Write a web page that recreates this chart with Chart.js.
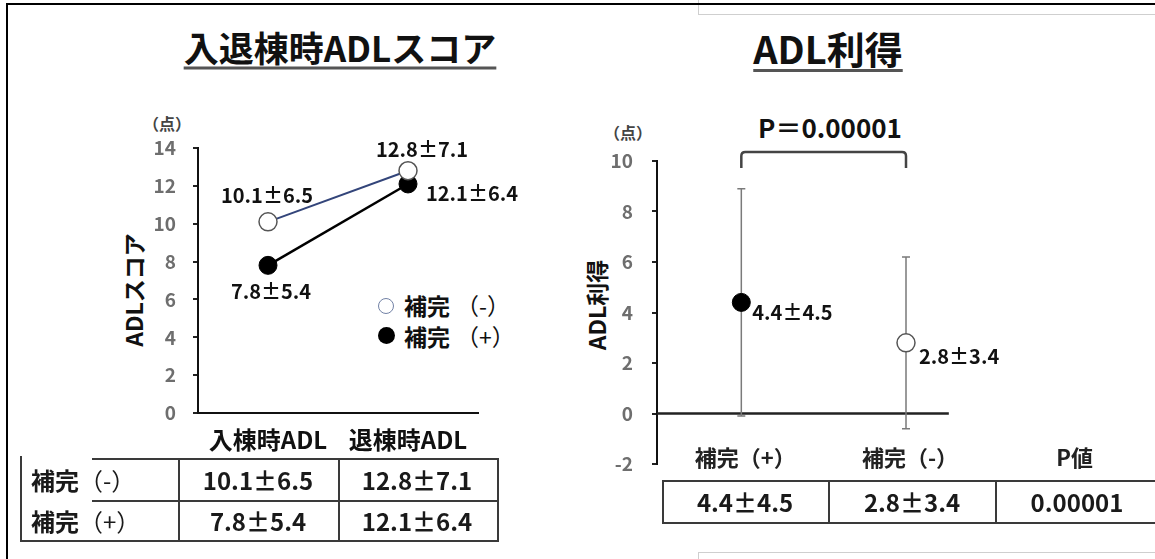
<!DOCTYPE html>
<html lang="ja">
<head>
<meta charset="utf-8">
<title>入退棟時ADLスコア / ADL利得</title>
<script src="https://cdn.jsdelivr.net/npm/chart.js@4.4.1/dist/chart.umd.min.js"></script>
<style>
  html, body { margin:0; padding:0; background:#fff; }
  body { width:1155px; height:559px; overflow:hidden; position:relative;
         font-family:"Noto Sans CJK JP","Noto Sans",sans-serif; color:#111; }
  .c { position:absolute; line-height:1; white-space:nowrap; transform:translate(-50%,-50%); }
  .l { position:absolute; line-height:1; white-space:nowrap; transform:translate(0,-50%); }
  .hl { position:absolute; height:2px; background:#3a3a3a; }
  .vl { position:absolute; width:2px; background:#3a3a3a; }
  .title { font-weight:700; text-decoration:underline; text-decoration-thickness:3px;
           text-underline-offset:5px; text-decoration-color:#555; }
  .unit { font-size:16px; font-weight:700; color:#444; }
  .ytitle { font-size:23px; font-weight:700; transform:translate(-50%,-50%) rotate(-90deg); }
  .cell { font-size:24px; font-weight:700; color:#1a1a1a; }
  .paren { font-weight:400; }
  .box { position:absolute; border:1px solid #cfcfcf; }
  canvas { position:absolute; }
</style>
</head>
<body>
<!-- frame -->
<div class="box" style="left:698px;top:-2px;width:480px;height:15px;"></div>
<div class="box" style="left:698px;top:552px;width:480px;height:30px;"></div>
<div style="position:absolute;left:7px;top:3px;width:1160px;height:2px;background:#000"></div>
<div style="position:absolute;left:6px;top:3px;width:2px;height:560px;background:#000"></div>

<!-- left panel text -->
<div class="c title" style="left:340px;top:46px;font-size:35px;">入退棟時ADLスコア</div>
<div class="c unit" style="left:167px;top:123px;">（点）</div>
<div class="c ytitle" style="left:133px;top:290px;">ADLスコア</div>
<div id="legend"></div>

<!-- right panel text -->
<div class="c title" style="left:828px;top:48px;font-size:38px;">ADL利得</div>
<div class="c unit" style="left:628px;top:132px;">（点）</div>
<div class="c ytitle" style="left:596px;top:305px;">ADL利得</div>
<div id="ptext" class="c" style="left:830px;top:127px;font-size:26px;font-weight:700;"></div>

<canvas id="scoreChart" width="450" height="350" style="left:100px;top:110px;width:450px;height:350px;"></canvas>
<canvas id="gainChart" width="620" height="400" style="left:560px;top:100px;width:620px;height:400px;"></canvas>

<div id="tables"></div>

<script>
// ---------------- data ----------------
const scoreCategories = ['入棟時ADL', '退棟時ADL'];
const groupNames = ['補完（-）', '補完（+）'];
const minusMean = [10.1, 12.8];
const minusSD = [6.5, 7.1];
const plusMean = [7.8, 12.1];
const plusSD = [5.4, 6.4];
const scoreTicks = [0, 2, 4, 6, 8, 10, 12, 14];

const gainCategories = ['補完（+）', '補完（-）', 'P値'];
const gainMean = [4.4, 2.8];
const gainSD = [4.5, 3.4];
const gainTicks = [-2, 0, 2, 4, 6, 8, 10];
const pValue = '0.00001';

// ---------------- helpers ----------------
const FONT = '"Noto Sans CJK JP", "Noto Sans", sans-serif';
const fmt = (m, s) => m.toFixed(1) + '±' + s.toFixed(1);

function el(tag, cls, style, html) {
  const d = document.createElement(tag);
  if (cls) d.className = cls;
  d.setAttribute('style', style);
  if (html !== undefined) d.innerHTML = html;
  return d;
}
function splitName(n) { return n.replace(/（(.)）/, '<span class="paren">（$1）</span>'); }

// ---------------- legend (left chart) ----------------
const legend = document.getElementById('legend');
legend.appendChild(el('div', '', 'position:absolute;left:378px;top:298px;width:14px;height:14px;border:1.5px solid #7282a6;border-radius:50%;background:#fff;'));
legend.appendChild(el('div', '', 'position:absolute;left:378px;top:327px;width:17px;height:17px;border-radius:50%;background:#000;'));
legend.appendChild(el('div', 'l', 'left:404px;top:305px;font-size:23px;font-weight:700;', '補完<span class="paren" style="margin-left:6px">（-）</span>'));
legend.appendChild(el('div', 'l', 'left:404px;top:336px;font-size:23px;font-weight:700;', '補完<span class="paren" style="margin-left:6px">（+）</span>'));

document.getElementById('ptext').textContent = 'P＝' + pValue;

// ---------------- tables ----------------
const tables = document.getElementById('tables');
[[92, 458, 405], [92, 500, 405], [20, 540, 479]].forEach(([x, y, w]) =>
  tables.appendChild(el('div', 'hl', `left:${x}px;top:${y}px;width:${w}px;`)));
[[20, 456, 86], [178, 458, 84], [338, 458, 84], [497, 458, 84]].forEach(([x, y, h]) =>
  tables.appendChild(el('div', 'vl', `left:${x}px;top:${y}px;height:${h}px;`)));
const rowsY = [480, 521];
[[minusMean, minusSD], [plusMean, plusSD]].forEach(([m, s], r) => {
  tables.appendChild(el('div', 'l cell', `left:31px;top:${rowsY[r]}px;`, splitName(groupNames[r])));
  [258, 417].forEach((cx, c) =>
    tables.appendChild(el('div', 'c cell', `left:${cx}px;top:${rowsY[r]}px;`, fmt(m[c], s[c]))));
});
[[662, 480, 520], [662, 522, 520]].forEach(([x, y, w]) =>
  tables.appendChild(el('div', 'hl', `left:${x}px;top:${y}px;width:${w}px;`)));
[662, 828, 995].forEach(x =>
  tables.appendChild(el('div', 'vl', `left:${x}px;top:480px;height:44px;`)));
const rightCells = [fmt(gainMean[0], gainSD[0]), fmt(gainMean[1], gainSD[1]), pValue];
[745, 912, 1077].forEach((cx, i) =>
  tables.appendChild(el('div', 'c cell', `left:${cx}px;top:502px;`, rightCells[i])));

// ---------------- plugins ----------------
const pointLabels = {
  id: 'pointLabels',
  afterDatasetsDraw(chart, args, opts) {
    const ctx = chart.ctx;
    ctx.save();
    ctx.font = opts.font;
    ctx.fillStyle = opts.color;
    ctx.textBaseline = 'middle';
    opts.items.forEach(it => {
      const p = chart.getDatasetMeta(it.ds).data[it.i];
      ctx.textAlign = it.align;
      ctx.fillText(it.text, p.x + it.dx, p.y + it.dy);
    });
    ctx.restore();
  }
};

const gainDecor = {
  id: 'gainDecor',
  beforeDatasetsDraw(chart) {
    const { ctx, chartArea, scales: { x, y } } = chart;
    ctx.save();
    const y0 = y.getPixelForValue(0);
    ctx.strokeStyle = '#222';
    ctx.lineWidth = 2.5;
    ctx.beginPath();
    ctx.moveTo(chartArea.left, y0);
    ctx.lineTo(x.getPixelForValue(2.26), y0);
    ctx.stroke();
    ctx.strokeStyle = '#7a7a7a';
    ctx.lineWidth = 1.5;
    gainMean.forEach((m, i) => {
      const px = x.getPixelForValue(i + 1);
      const t = y.getPixelForValue(m + gainSD[i]);
      const b = y.getPixelForValue(m - gainSD[i]);
      ctx.beginPath();
      ctx.moveTo(px, t); ctx.lineTo(px, b);
      ctx.moveTo(px - 4, t); ctx.lineTo(px + 4, t);
      ctx.moveTo(px - 4, b); ctx.lineTo(px + 4, b);
      ctx.stroke();
    });
    const xa = x.getPixelForValue(1), xb = x.getPixelForValue(2);
    const yt = chartArea.top - 9, ye = chartArea.top + 7, r = 4;
    ctx.strokeStyle = '#444';
    ctx.lineWidth = 2.5;
    ctx.beginPath();
    ctx.moveTo(xa, ye);
    ctx.lineTo(xa, yt + r);
    ctx.quadraticCurveTo(xa, yt, xa + r, yt);
    ctx.lineTo(xb - r, yt);
    ctx.quadraticCurveTo(xb, yt, xb, yt + r);
    ctx.lineTo(xb, ye);
    ctx.stroke();
    ctx.restore();
  },
  afterDraw(chart) {
    // category labels sit just above the bottom (-2) of the value axis
    const { ctx, chartArea, scales: { x } } = chart;
    ctx.save();
    ctx.font = 'bold 22px ' + FONT;
    ctx.fillStyle = '#222';
    ctx.textAlign = 'center';
    ctx.textBaseline = 'middle';
    gainCategories.forEach((c, i) => ctx.fillText(c, x.getPixelForValue(i + 1) + 4, chartArea.bottom - 6));
    ctx.restore();
  }
};

// ---------------- left chart ----------------
new Chart(document.getElementById('scoreChart'), {
  type: 'line',
  data: {
    labels: scoreCategories,
    datasets: [
      { label: groupNames[0], data: minusMean, order: 0,
        borderColor: '#33457a', borderWidth: 2,
        pointRadius: 9, pointBorderWidth: 1.5,
        pointBackgroundColor: '#fff', pointBorderColor: '#555' },
      { label: groupNames[1], data: plusMean, order: 1,
        borderColor: '#000', borderWidth: 2.5,
        pointRadius: 9, pointBorderWidth: 1,
        pointBackgroundColor: '#000', pointBorderColor: '#000' }
    ]
  },
  options: {
    responsive: false, animation: false, devicePixelRatio: 1,
    layout: { padding: { top: 38, right: 72, left: 0, bottom: 0 } },
    plugins: {
      legend: { display: false }, tooltip: { enabled: false },
      pointLabels: {
        font: 'bold 20px ' + FONT, color: '#111',
        items: [
          { ds: 0, i: 0, text: fmt(minusMean[0], minusSD[0]), align: 'center', dx: -1, dy: -26 },
          { ds: 0, i: 1, text: fmt(minusMean[1], minusSD[1]), align: 'center', dx: 14, dy: -21 },
          { ds: 1, i: 0, text: fmt(plusMean[0], plusSD[0]), align: 'center', dx: 3, dy: 26 },
          { ds: 1, i: 1, text: fmt(plusMean[1], plusSD[1]), align: 'left', dx: 18, dy: 9 }
        ]
      }
    },
    scales: {
      x: {
        type: 'category', offset: true,
        grid: { display: false, drawTicks: false },
        border: { display: true, color: '#111', width: 2 },
        ticks: { font: { family: FONT, size: 24, weight: 'bold' }, color: '#111', padding: 12,
                 maxRotation: 0, autoSkip: false },
        afterFit(s) { s.height = 47; }
      },
      y: {
        min: scoreTicks[0], max: scoreTicks[scoreTicks.length - 1],
        afterBuildTicks(s) { s.ticks = scoreTicks.map(v => ({ value: v })); },
        ticks: { font: { family: FONT, size: 19, weight: 'bold' }, color: '#6e6e6e', padding: 17 },
        grid: { display: true, drawOnChartArea: false, drawTicks: true, tickLength: 5, color: '#222', lineWidth: 2 },
        border: { display: true, color: '#111', width: 2 },
        afterFit(s) { s.width = 98; }
      }
    }
  },
  plugins: [pointLabels]
});

// ---------------- right chart ----------------
new Chart(document.getElementById('gainChart'), {
  type: 'scatter',
  data: {
    datasets: [
      { label: 'ADL利得', data: gainMean.map((v, i) => ({ x: i + 1, y: v })),
        pointRadius: 9, pointBorderWidth: [1, 1.5],
        pointBackgroundColor: ['#000', '#fff'], pointBorderColor: ['#000', '#555'] }
    ]
  },
  options: {
    responsive: false, animation: false, devicePixelRatio: 1,
    layout: { padding: { top: 61, right: 0, left: 0, bottom: 0 } },
    plugins: {
      legend: { display: false }, tooltip: { enabled: false },
      pointLabels: {
        font: 'bold 20px ' + FONT, color: '#111',
        items: [
          { ds: 0, i: 0, text: fmt(gainMean[0], gainSD[0]), align: 'left', dx: 11, dy: 10 },
          { ds: 0, i: 1, text: fmt(gainMean[1], gainSD[1]), align: 'left', dx: 13, dy: 14 }
        ]
      }
    },
    scales: {
      x: {
        type: 'linear', min: 0.488, max: 3.6,
        afterBuildTicks(s) { s.ticks = gainCategories.map((c, i) => ({ value: i + 1 })); },
        ticks: { display: false },
        grid: { display: false, drawTicks: false },
        border: { display: false },
        afterFit(s) { s.height = 36; }
      },
      y: {
        min: gainTicks[0], max: gainTicks[gainTicks.length - 1],
        afterBuildTicks(s) { s.ticks = gainTicks.map(v => ({ value: v })); },
        ticks: { font: { family: FONT, size: 19, weight: 'bold' }, color: '#6e6e6e', padding: 19 },
        grid: { display: true, drawOnChartArea: false, drawTicks: true, tickLength: 5, color: '#222', lineWidth: 2 },
        border: { display: true, color: '#111', width: 2 },
        afterFit(s) { s.width = 97; }
      }
    }
  },
  plugins: [gainDecor, pointLabels]
});
</script>
</body>
</html>
